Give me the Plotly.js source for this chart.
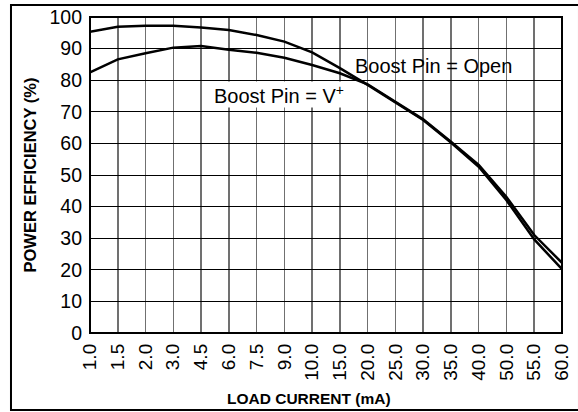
<!DOCTYPE html>
<html>
<head>
<meta charset="utf-8">
<script src="https://cdn.plot.ly/plotly-3.0.1.min.js"></script>
<style>
html,body{margin:0;padding:0;background:#fff;}
#chart{width:578px;height:412px;}
</style>
</head>
<body>
<div id="chart"></div>
<script>
// Load current categories (mA)
var categories = ['1.0','1.5','2.0','3.0','4.5','6.0','7.5','9.0','10.0','15.0','20.0','25.0','30.0','35.0','40.0','50.0','55.0','60.0'];
// Power efficiency (%) with Boost Pin = Open
var effOpen = [95.3, 96.9, 97.2, 97.2, 96.7, 95.9, 94.3, 92.2, 88.8, 83.8, 78.5, 72.9, 67.4, 60.3, 52.6, 42.0, 29.6, 20.2];
// Power efficiency (%) with Boost Pin = V+
var effVplus = [82.5, 86.6, 88.5, 90.3, 90.8, 89.6, 88.7, 87.1, 84.8, 82.2, 78.7, 73.2, 67.6, 60.5, 53.2, 43.0, 31.0, 22.2];
var yTicks = [0,10,20,30,40,50,60,70,80,90,100];

var FONT = 'Liberation Sans, Arial, Helvetica, sans-serif';

var traces = [
  {x: categories, y: effOpen, type: 'scatter', mode: 'lines', name: 'Boost Pin = Open',
   line: {color: '#000', width: 2.5}, showlegend: false},
  {x: categories, y: effVplus, type: 'scatter', mode: 'lines', name: 'Boost Pin = V+',
   line: {color: '#000', width: 2.5}, showlegend: false}
];

var layout = {
  width: 578, height: 412,
  margin: {l: 90, r: 16, t: 17, b: 79},
  paper_bgcolor: '#fff', plot_bgcolor: '#fff',
  font: {family: FONT, color: '#000'},
  showlegend: false,
  xaxis: {
    type: 'category',
    range: [0, categories.length - 1],
    tickangle: -90,
    tickfont: {family: FONT, size: 19, color: '#000'},
    showgrid: true, gridcolor: '#707070', gridwidth: 1.5,
    showline: false, zeroline: false,
    ticks: '', ticklabelstandoff: 6
  },
  yaxis: {
    range: [0, 100],
    tickvals: yTicks,
    tickfont: {family: FONT, size: 19.5, color: '#000'},
    showgrid: true, gridcolor: '#000', gridwidth: 1,
    showline: false, zeroline: false,
    ticks: '', ticklabelstandoff: 7,
    title: {text: 'POWER EFFICIENCY (%)', font: {family: FONT, size: 16.5, color: '#000', weight: 'bold'}, standoff: 8}
  },
  shapes: [
    {type: 'rect', xref: 'paper', yref: 'paper', x0: 0, x1: 1, y0: 0, y1: 1,
     line: {color: '#000', width: 2}},
    {type: 'rect', xref: 'paper', yref: 'paper', x0: -0.1674, x1: 1.036, y0: -0.2437, y1: 1.038,
     line: {color: '#000', width: 2}}
  ],
  annotations: [
    {xref: 'paper', yref: 'paper', x: 0.465, y: -0.2085, text: '<b>LOAD CURRENT (mA)</b>',
     showarrow: false, xanchor: 'center', yanchor: 'middle',
     font: {family: FONT, size: 15.5, color: '#000'}},
    {xref: 'paper', yref: 'paper', x: 0.7288, y: 0.845, text: 'Boost Pin = Open',
     showarrow: false, xanchor: 'center', yanchor: 'middle', borderpad: 0,
     font: {family: FONT, size: 20, color: '#000'}},
    {xref: 'paper', yref: 'paper', x: 0.4004, y: 0.755, text: 'Boost Pin = V<sup>+</sup>',
     showarrow: false, xanchor: 'center', yanchor: 'middle', bgcolor: '#fff', borderpad: 0,
     font: {family: FONT, size: 20, color: '#000'}}
  ]
};

Plotly.newPlot('chart', traces, layout, {displayModeBar: false, staticPlot: true});
</script>
</body>
</html>
